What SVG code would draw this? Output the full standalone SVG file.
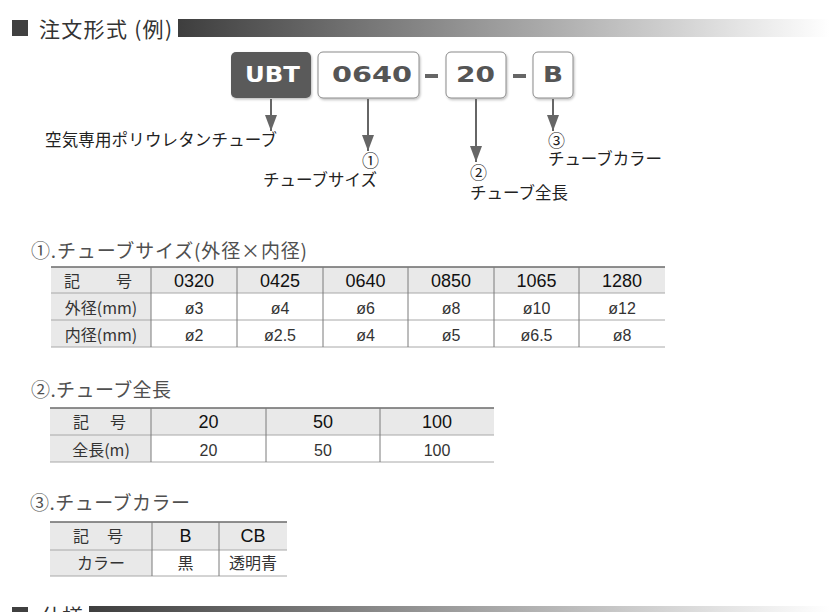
<svg xmlns="http://www.w3.org/2000/svg" width="830" height="612" viewBox="0 0 830 612">
<defs>
<linearGradient id="barGrad" x1="0" y1="0" x2="1" y2="0">
<stop offset="0" stop-color="#3e3e3e"/>
<stop offset="1" stop-color="#ffffff"/>
</linearGradient>
<marker id="arrow" markerUnits="userSpaceOnUse" markerWidth="18" markerHeight="14" refX="16" refY="7" orient="auto" viewBox="0 0 18 14">
<path d="M0,1 L16,7 L0,13 Z" fill="#666"/>
</marker>
<filter id="sh" x="-10%" y="-10%" width="130%" height="130%">
<feDropShadow dx="1" dy="1.5" stdDeviation="1" flood-color="#000" flood-opacity="0.25"/>
</filter>
</defs>
<style>
.jp{font-family:"Noto Sans CJK JP","Liberation Sans",sans-serif;}
.hd{font-size:21px;fill:#333;}
.lbl{font-size:16.5px;fill:#222;}
.num{font-size:17px;fill:#222;}
.ttl{font-size:19px;fill:#505050;}
.code{font-family:"DejaVu Sans","Liberation Sans",sans-serif;font-weight:bold;font-size:21px;}
.th{font-family:"Liberation Sans","Noto Sans CJK JP",sans-serif;font-size:18px;fill:#111;text-anchor:middle;}
.td{font-family:"Liberation Sans","Noto Sans CJK JP",sans-serif;font-size:16px;fill:#333;text-anchor:middle;}
.tk{font-family:"Noto Sans CJK JP","Liberation Sans",sans-serif;font-size:16px;fill:#333;text-anchor:middle;}
.fill{fill:#e9e9e9;}
.topl{stroke:#6a6a6a;stroke-width:1.5;}
.hl{stroke:#a8a8a8;stroke-width:1;}
.vl{stroke:#7a7a7a;stroke-width:1;}
.box{fill:#fff;stroke:#8a8a8a;stroke-width:1;}
.conn{stroke:#666;stroke-width:2;fill:none;}
</style>

<g id="header1">
<rect x="12" y="20" width="16" height="16" fill="#404040"/>
<text class="jp hd" x="39" y="37" textLength="133" lengthAdjust="spacing">注文形式 (例)</text>
<rect x="178" y="19" width="652" height="18" fill="url(#barGrad)"/>
</g>

<g id="code-UBT">
<rect x="231" y="52" width="80" height="46" rx="5" fill="#5a5a5a" filter="url(#sh)"/>
<text class="code" x="245" y="82" fill="#fff" textLength="55" lengthAdjust="spacingAndGlyphs">UBT</text>
</g>
<g id="code-0640">
<rect class="box" x="318" y="52" width="101" height="46" rx="5" filter="url(#sh)"/>
<text class="code" x="332" y="82" fill="#555" textLength="80" lengthAdjust="spacingAndGlyphs">0640</text>
</g>
<g id="dash1"><rect x="425" y="74" width="13" height="4" fill="#666"/></g>
<g id="code-20">
<rect class="box" x="446" y="52" width="60" height="46" rx="5" filter="url(#sh)"/>
<text class="code" x="456" y="82" fill="#555" textLength="39" lengthAdjust="spacingAndGlyphs">20</text>
</g>
<g id="dash2"><rect x="513" y="74" width="13" height="4" fill="#666"/></g>
<g id="code-B">
<rect class="box" x="533" y="52" width="40" height="46" rx="5" filter="url(#sh)"/>
<text class="code" x="543" y="82" fill="#555" textLength="20" lengthAdjust="spacingAndGlyphs">B</text>
</g>

<g id="connectors">
<line class="conn" x1="271" y1="99" x2="271" y2="131" marker-end="url(#arrow)"/>
<line class="conn" x1="368" y1="99" x2="368" y2="151" marker-end="url(#arrow)"/>
<line class="conn" x1="476" y1="99" x2="476" y2="162" marker-end="url(#arrow)"/>
<line class="conn" x1="553" y1="99" x2="553" y2="131" marker-end="url(#arrow)"/>
</g>

<g id="label-tube">
<text class="jp lbl" x="45" y="146" textLength="232" lengthAdjust="spacing">空気専用ポリウレタンチューブ</text>
</g>
<g id="label-size">
<text class="jp num" x="362" y="167">①</text>
<text class="jp lbl" x="263" y="186" textLength="114" lengthAdjust="spacing">チューブサイズ</text>
</g>
<g id="label-length">
<text class="jp num" x="470" y="178.5">②</text>
<text class="jp lbl" x="470" y="198.5" textLength="98" lengthAdjust="spacing">チューブ全長</text>
</g>
<g id="label-color">
<text class="jp num" x="548" y="146.5">③</text>
<text class="jp lbl" x="548" y="165" textLength="114" lengthAdjust="spacing">チューブカラー</text>
</g>

<g id="table1">
<text class="jp ttl" x="31" y="258" textLength="276" lengthAdjust="spacing">①.チューブサイズ(外径×内径)</text>
<rect class="fill" x="51" y="267" width="614" height="26"/>
<rect class="fill" x="51" y="293" width="100" height="54"/>
<line class="topl" x1="51" y1="267" x2="665" y2="267"/>
<line class="hl" x1="51" y1="293" x2="665" y2="293"/>
<line class="hl" x1="51" y1="320" x2="665" y2="320"/>
<line class="hl" x1="51" y1="347" x2="665" y2="347"/>
<line class="vl" x1="151" y1="267" x2="151" y2="347"/>
<line class="vl" x1="237" y1="267" x2="237" y2="347"/>
<line class="vl" x1="323" y1="267" x2="323" y2="347"/>
<line class="vl" x1="408" y1="267" x2="408" y2="347"/>
<line class="vl" x1="494" y1="267" x2="494" y2="347"/>
<line class="vl" x1="579" y1="267" x2="579" y2="347"/>
<text class="tk" x="72" y="286.5">記</text>
<text class="tk" x="124" y="286.5">号</text>
<text class="th" x="194" y="286.5">0320</text>
<text class="th" x="280" y="286.5">0425</text>
<text class="th" x="365.5" y="286.5">0640</text>
<text class="th" x="451" y="286.5">0850</text>
<text class="th" x="536.5" y="286.5">1065</text>
<text class="th" x="622" y="286.5">1280</text>
<text class="tk" x="101" y="313.5">外径(mm)</text>
<text class="td" x="194" y="313.5">ø3</text>
<text class="td" x="280" y="313.5">ø4</text>
<text class="td" x="365.5" y="313.5">ø6</text>
<text class="td" x="451" y="313.5">ø8</text>
<text class="td" x="536.5" y="313.5">ø10</text>
<text class="td" x="622" y="313.5">ø12</text>
<text class="tk" x="101" y="340.5">内径(mm)</text>
<text class="td" x="194" y="340.5">ø2</text>
<text class="td" x="280" y="340.5">ø2.5</text>
<text class="td" x="365.5" y="340.5">ø4</text>
<text class="td" x="451" y="340.5">ø5</text>
<text class="td" x="536.5" y="340.5">ø6.5</text>
<text class="td" x="622" y="340.5">ø8</text>
</g>

<g id="table2">
<text class="jp ttl" x="31" y="397" textLength="140" lengthAdjust="spacing">②.チューブ全長</text>
<rect class="fill" x="50" y="408" width="444" height="27"/>
<rect class="fill" x="50" y="435" width="101" height="27"/>
<line class="topl" x1="50" y1="408" x2="494" y2="408"/>
<line class="hl" x1="50" y1="435" x2="494" y2="435"/>
<line class="hl" x1="50" y1="462" x2="494" y2="462"/>
<line class="vl" x1="151" y1="408" x2="151" y2="462"/>
<line class="vl" x1="266" y1="408" x2="266" y2="462"/>
<line class="vl" x1="380" y1="408" x2="380" y2="462"/>
<text class="tk" x="81" y="428">記</text>
<text class="tk" x="118" y="428">号</text>
<text class="th" x="208.5" y="428">20</text>
<text class="th" x="323" y="428">50</text>
<text class="th" x="437" y="428">100</text>
<text class="tk" x="101" y="455.5">全長(m)</text>
<text class="td" x="208.5" y="455.5">20</text>
<text class="td" x="323" y="455.5">50</text>
<text class="td" x="437" y="455.5">100</text>
</g>

<g id="table3">
<text class="jp ttl" x="30" y="510" textLength="160" lengthAdjust="spacing">③.チューブカラー</text>
<rect class="fill" x="50" y="522" width="237" height="28"/>
<rect class="fill" x="50" y="550" width="102" height="26"/>
<line class="topl" x1="50" y1="522" x2="287" y2="522"/>
<line class="hl" x1="50" y1="550" x2="287" y2="550"/>
<line class="hl" x1="50" y1="576" x2="287" y2="576"/>
<line class="vl" x1="152" y1="522" x2="152" y2="576"/>
<line class="vl" x1="219" y1="522" x2="219" y2="576"/>
<text class="tk" x="81" y="542">記</text>
<text class="tk" x="115" y="542">号</text>
<text class="th" x="185.5" y="542">B</text>
<text class="th" x="253" y="542">CB</text>
<text class="tk" x="101" y="569">カラー</text>
<text class="tk" x="185.5" y="569">黒</text>
<text class="tk" x="253" y="569">透明青</text>
</g>

<g id="header2">
<rect x="12" y="607" width="16" height="16" fill="#404040"/>
<text class="jp hd" x="41" y="624">仕様</text>
<rect x="89" y="606" width="741" height="18" fill="url(#barGrad)"/>
</g>
</svg>
